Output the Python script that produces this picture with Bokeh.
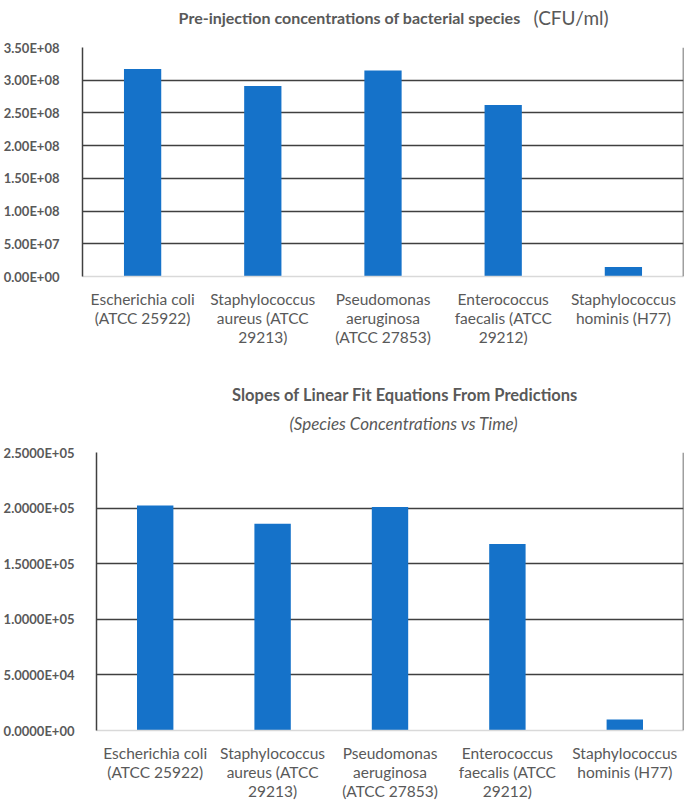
from bokeh.plotting import figure
from bokeh.models import FactorRange, Range1d, FixedTicker, Label, Span
from bokeh.layouts import column
from bokeh.embed import file_html
from bokeh.resources import INLINE

# ---------------- data ----------------
species = [
    "Escherichia coli\n(ATCC 25922)",
    "Staphylococcus\naureus (ATCC\n29213)",
    "Pseudomonas\naeruginosa\n(ATCC 27853)",
    "Enterococcus\nfaecalis (ATCC\n29212)",
    "Staphylococcus\nhominis (H77)",
]
concentrations = [3.17e8, 2.91e8, 3.15e8, 2.62e8, 1.45e7]
slopes = [2.024e5, 1.859e5, 2.011e5, 1.678e5, 9.8e3]

conc_ticks = [0, 50000000, 100000000, 150000000, 200000000, 250000000, 300000000, 350000000]
conc_tick_labels = ["0.00E+00", "5.00E+07", "1.00E+08", "1.50E+08", "2.00E+08",
                    "2.50E+08", "3.00E+08", "3.50E+08"]
slope_ticks = [0, 50000, 100000, 150000, 200000, 250000]
slope_tick_labels = ["0.0000E+00", "5.0000E+04", "1.0000E+05", "1.5000E+05",
                     "2.0000E+05", "2.5000E+05"]

title1_bold = "Pre-injection concentrations of bacterial species"
title1_unit = "(CFU/ml)"
title2 = "Slopes of Linear Fit Equations From Predictions"
subtitle2 = "(Species Concentrations vs Time)"

# ---------------- style ----------------
BAR = "#1572C9"
TEXT = "#595959"
DARK = "#404040"
LIGHT = "#D9D9D9"
FONT = "Lato"
W = 685


def make_header(height):
    h = figure(width=W, height=height, x_range=Range1d(0, W), y_range=Range1d(height, 0),
               x_axis_type=None, y_axis_type=None, output_backend="svg",
               toolbar_location=None, title=None, min_border=0, frame_align=False)
    h.outline_line_color = None
    return h


def make_chart(values, ticks, tick_labels, height, b_top, b_bottom, b_left,
               y_standoff, x_standoff):
    p = figure(
        x_range=FactorRange(factors=species, range_padding=0),
        y_range=Range1d(0, ticks[-1]),
        width=W, height=height,
        output_backend="svg", toolbar_location=None, title=None,
        min_border_left=b_left, min_border_right=2,
        min_border_top=b_top, min_border_bottom=b_bottom,
        frame_align=False,
    )
    p.vbar(x=species, top=values, width=0.31, fill_color=BAR, line_color=None)
    p.outline_line_color = None

    p.xgrid.visible = False
    p.ygrid.ticker = FixedTicker(ticks=ticks[1:])
    p.ygrid.grid_line_color = DARK
    p.ygrid.grid_line_width = 1.5

    ya = p.yaxis[0]
    ya.ticker = FixedTicker(ticks=ticks)
    ya.major_label_overrides = dict(zip(ticks, tick_labels))
    ya.axis_line_color = DARK
    ya.axis_line_width = 1.5
    ya.major_tick_line_color = None
    ya.minor_tick_line_color = None
    ya.major_label_text_font = FONT
    ya.major_label_text_font_style = "bold"
    ya.major_label_text_font_size = "13px"
    ya.major_label_text_color = TEXT
    ya.major_label_standoff = y_standoff

    xa = p.xaxis[0]
    xa.axis_line_color = LIGHT
    xa.axis_line_width = 1.5
    xa.major_tick_line_color = None
    xa.minor_tick_line_color = None
    xa.major_label_text_font = FONT
    xa.major_label_text_font_size = "15.5px"
    xa.major_label_text_line_height = 1.07
    xa.major_label_text_color = TEXT
    xa.major_label_standoff = x_standoff

    p.add_layout(Span(location=len(species), dimension="height",
                      line_color=DARK, line_width=1.5))
    return p


# header of chart 1 (page y 0..30)
h1 = make_header(30)
h1.add_layout(Label(x=520, y=17, text=title1_bold, text_align="right",
                    text_baseline="alphabetic", text_font=FONT, text_font_style="bold",
                    text_font_size="16px", text_color=TEXT))
h1.add_layout(Label(x=533, y=17, text=title1_unit, text_align="left",
                    text_baseline="alphabetic", text_font=FONT,
                    text_font_size="19px", text_color=TEXT))

# chart 1 (page y 30..370)
p1 = make_chart(concentrations, conc_ticks, conc_tick_labels, 340, 17, 94, 81, 17, 7)

# header of chart 2 (page y 370..436)
h2 = make_header(66)
h2.add_layout(Label(x=404.5, y=24.5, text=title2, text_align="center",
                    text_baseline="alphabetic", text_font=FONT, text_font_style="bold",
                    text_font_size="16.5px", text_color=TEXT))
h2.add_layout(Label(x=403.5, y=53, text=subtitle2, text_align="center",
                    text_baseline="alphabetic", text_font=FONT, text_font_style="italic",
                    text_font_size="17px", text_color=TEXT))

# chart 2 (page y 436..803)
p2 = make_chart(slopes, slope_ticks, slope_tick_labels, 367, 16, 71, 96, 16, 7)

layout = column(h1, p1, h2, p2, spacing=0)
open("out.html", "w").write(file_html(layout, INLINE))
